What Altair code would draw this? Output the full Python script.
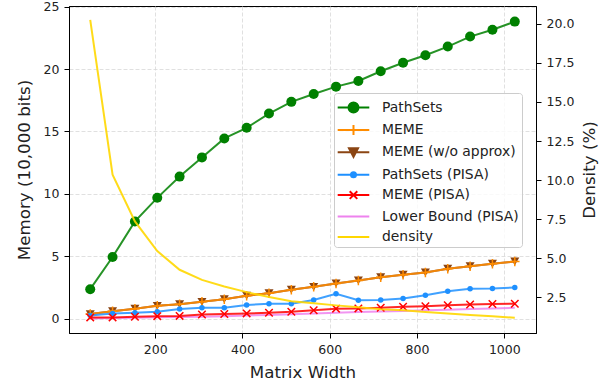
import altair as alt
import pandas as pd

matrix_width = [51.2, 102.4, 153.6, 204.8, 256.0, 307.2, 358.4, 409.6, 460.8, 512.0,
                563.2, 614.4, 665.6, 716.8, 768.0, 819.2, 870.4, 921.6, 972.8, 1024.0]

pathsets = [2.36, 4.94, 7.79, 9.68, 11.38, 12.92, 14.44, 15.29, 16.43, 17.37,
            18.0, 18.59, 19.04, 19.82, 20.5, 21.1, 21.8, 22.6, 23.15, 23.8]
meme = [0.37, 0.6, 0.8, 1.03, 1.16, 1.35, 1.56, 1.84, 2.04, 2.32,
        2.55, 2.82, 3.06, 3.32, 3.52, 3.7, 4.0, 4.2, 4.4, 4.58]
meme_wo = [0.37, 0.6, 0.8, 1.03, 1.16, 1.35, 1.56, 1.84, 2.04, 2.32,
           2.55, 2.82, 3.06, 3.32, 3.52, 3.7, 4.0, 4.2, 4.4, 4.58]
pathsets_pisa = [0.25, 0.42, 0.47, 0.55, 0.77, 0.87, 0.87, 1.1, 1.2, 1.2,
                 1.5, 2.0, 1.48, 1.5, 1.62, 1.88, 2.2, 2.4, 2.42, 2.5]
meme_pisa = [0.1, 0.1, 0.15, 0.2, 0.22, 0.33, 0.37, 0.42, 0.47, 0.55,
             0.67, 0.8, 0.82, 0.87, 0.95, 1.0, 1.07, 1.13, 1.17, 1.19]
lower_bound = [0.02, 0.05, 0.08, 0.11, 0.13, 0.16, 0.2, 0.25, 0.3, 0.35,
               0.42, 0.48, 0.53, 0.58, 0.62, 0.67, 0.72, 0.77, 0.82, 0.87]
density = [20.26, 10.34, 7.35, 5.45, 4.25, 3.6, 3.18, 2.82, 2.5, 2.24,
           2.1, 1.97, 1.85, 1.72, 1.65, 1.55, 1.45, 1.35, 1.27, 1.18]

names = ["PathSets", "MEME", "MEME (w/o approx)", "PathSets (PISA)",
         "MEME (PISA)", "Lower Bound (PISA)", "density"]
colors = ["#008000", "#ff8c00", "#8b4513", "#1e90ff", "#ff0000", "#ee82ee", "#ffd700"]
values = [pathsets, meme, meme_wo, pathsets_pisa, meme_pisa, lower_bound, density]

rows = []
for n, vals in zip(names, values):
    for w, v in zip(matrix_width, vals):
        rows.append({"width": w, "value": v, "series": n})
df = pd.DataFrame(rows)

FONT = "DejaVu Sans"

# legend symbol paths (units of half the legend symbol box, 10.5px)
cx = 0.476
line = "M-1.03,0H1.98"
def circ(R):
    return (f"M{cx+R:.3f},0A{R},{R} 0 1,0 {cx-R:.3f},0"
            f"A{R},{R} 0 1,0 {cx+R:.3f},0Z")
leg_paths = [
    line + circ(0.476),
    line + f"M{cx-0.476:.3f},0H{cx+0.476:.3f}M{cx},-0.476V0.476",
    line + f"M{cx-0.43:.3f},-0.38L{cx+0.43:.3f},-0.38L{cx},0.43Z",
    line + circ(0.24),
    line + f"M{cx-0.36:.3f},-0.36L{cx+0.36:.3f},0.36M{cx-0.36:.3f},0.36L{cx+0.36:.3f},-0.36",
    line,
    line,
]

x_enc = alt.X("width:Q",
              scale=alt.Scale(domain=[2.56, 1072.6], nice=False, zero=False),
              axis=alt.Axis(values=[200, 400, 600, 800, 1000], title="Matrix Width",
                            format="d", grid=True, titlePadding=9))
y_left = alt.Y("value:Q",
               scale=alt.Scale(domain=[-1.15, 25.05], nice=False, zero=False),
               axis=alt.Axis(values=[0, 5, 10, 15, 20, 25], title="Memory (10,000 bits)",
                             grid=True, titlePadding=10))

def sel(name):
    return alt.Chart(df).transform_filter(alt.datum.series == name)

def line_layer(i):
    return sel(names[i]).mark_line(color=colors[i], strokeWidth=2, opacity=0.85).encode(
        x=x_enc, y=y_left)

layers = []
# PathSets
layers.append(line_layer(0))
layers.append(sel(names[0]).mark_point(shape="circle", filled=True, size=100, opacity=1,
                                        color=colors[0]).encode(x=x_enc, y=y_left))
# MEME (w/o approx) underneath MEME
layers.append(line_layer(2))
layers.append(sel(names[2]).mark_point(shape="triangle-down", filled=True, size=81, opacity=1,
                                        color=colors[2]).encode(x=x_enc, y=y_left))
layers.append(line_layer(1))
layers.append(sel(names[1]).mark_point(shape="M-1,0H1M0,-1V1", filled=False, size=90,
                                        opacity=1, strokeWidth=1.5,
                                        color=colors[1]).encode(x=x_enc, y=y_left))
# PathSets (PISA)
layers.append(line_layer(3))
layers.append(sel(names[3]).mark_point(shape="circle", filled=True, size=30, opacity=1,
                                        color=colors[3]).encode(x=x_enc, y=y_left))
# Lower bound
layers.append(line_layer(5))
# MEME (PISA)
layers.append(line_layer(4))
layers.append(sel(names[4]).mark_point(shape="M-1,-1L1,1M-1,1L1,-1", filled=False, size=56,
                                        opacity=1, strokeWidth=1.5,
                                        color=colors[4]).encode(x=x_enc, y=y_left))

leg = alt.Legend(title=None, orient="none", legendX=265, legendY=87,
                 symbolSize=441, symbolStrokeWidth=2, symbolOpacity=1,
                 labelOffset=22, padding=3, rowPadding=1.4,
                 fillColor="rgba(255,255,255,0.8)", strokeColor="#cccccc",
                 cornerRadius=3, labelFontSize=13.9, labelFont=FONT, labelColor="#222222",
                 labelLimit=300)
legend_layer = alt.Chart(df).transform_filter("false").mark_point(
    filled=True, opacity=1).encode(
    x=x_enc, y=y_left,
    fill=alt.Fill("series:N", scale=alt.Scale(domain=names, range=colors), legend=leg),
    stroke=alt.Stroke("series:N", scale=alt.Scale(domain=names, range=colors), legend=leg),
    shape=alt.Shape("series:N", scale=alt.Scale(domain=names, range=leg_paths), legend=leg),
)
layers.append(legend_layer)

left = alt.layer(*layers)

right = sel("density").mark_line(color=colors[6], strokeWidth=2, opacity=0.9).encode(
    x=x_enc,
    y=alt.Y("value:Q",
            scale=alt.Scale(domain=[0.2, 21.15], nice=False, zero=False),
            axis=alt.Axis(orient="right", values=[2.5, 5, 7.5, 10, 12.5, 15, 17.5, 20],
                          format=".1f", title="Density (%)", grid=False,
                          titleAngle=270, titleBaseline="top", titlePadding=8)),
)

chart = alt.layer(left, right).resolve_scale(y="independent").properties(
    width=467, height=327,
    autosize=alt.AutoSizeParams(type="none"),
    padding={"left": 69, "top": 6, "right": 77, "bottom": 50},
).configure_view(
    stroke="black", strokeWidth=1
).configure_axis(
    labelFont=FONT, titleFont=FONT, labelFontSize=12.5, titleFontSize=16.7,
    labelColor="#222222", titleColor="#222222", titleFontWeight="normal",
    tickColor="black", domainColor="black", tickSize=5, labelPadding=5,
    gridColor="#d8d8d8", gridDash=[4, 2], gridWidth=0.8,
)

chart.save("out.html", embed_options={"renderer": "svg", "actions": False})
